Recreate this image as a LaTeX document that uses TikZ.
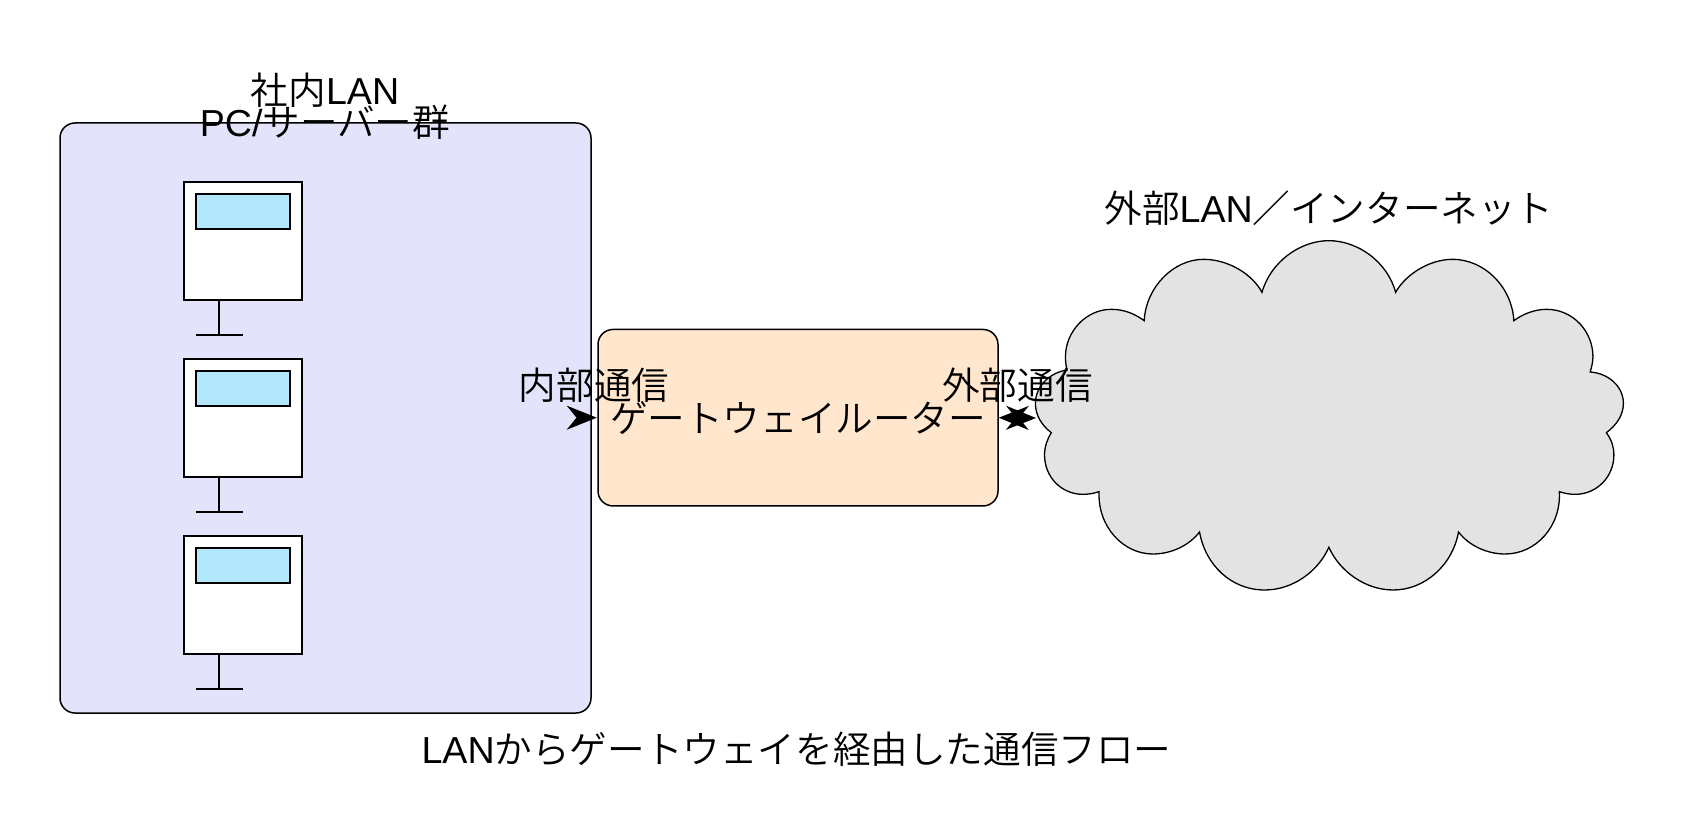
\documentclass[tikz,border=0pt]{standalone}
\usepackage{fontspec}
\usetikzlibrary{arrows.meta}
\setmainfont{Noto Sans CJK JP DemiLight}
\newfontfamily\latn{Liberation Sans}
\definecolor{lanfill}{HTML}{E3E3FC}
\definecolor{routerfill}{HTML}{FFE6CC}
\definecolor{screenfill}{HTML}{B3E7FB}
\definecolor{cloudfill}{HTML}{E3E3E3}
\tikzset{
  ln/.style={line width=1.5pt,draw=black},
  lanbox/.style={ln,fill=lanfill,rounded corners=15pt,minimum width=531pt,minimum height=590pt,inner sep=0pt},
  routerbox/.style={ln,fill=routerfill,rounded corners=15pt,minimum width=400pt,minimum height=176.5pt,inner sep=0pt,font=\bigfont},
  pcbox/.style={ln,fill=white,minimum width=118pt,minimum height=118pt,inner sep=0pt},
  screenbox/.style={ln,fill=screenfill,minimum width=94pt,minimum height=35pt,inner sep=0pt},
  label/.style={inner sep=0pt,font=\bigfont},
  flow/.style={line width=1.5pt,-{Stealth[length=30pt,width=24pt]}},
  bothflow/.style={line width=1.5pt,{Stealth[length=30pt,width=24pt]}-{Stealth[length=30pt,width=24pt]}},
  cloudpath/.style={line width=1.3pt,draw=black,fill=cloudfill}
}
\newcommand{\bigfont}{\fontsize{37.6}{37.6}\selectfont}
\begin{document}
\begin{tikzpicture}[x=1pt,y=-1pt]
\useasboundingbox (0,0) rectangle (1687,840);
\node[lanbox] (lan) at (325.5,418) {};
% cloud
\begin{scope}[shift={(1019.6,220)},x=0.3954pt,y=-0.33333pt]
\draw[cloudpath] (315,302)
 .. controls (320,200) and (390,118) .. (465,118)
 .. controls (530,118) and (590,165) .. (613,217)
 .. controls (635,125) and (710,62) .. (782,62)
 .. controls (855,62) and (930,125) .. (951,217)
 .. controls (975,165) and (1035,118) .. (1095,118)
 .. controls (1175,118) and (1245,200) .. (1250,302)
 .. controls (1275,280) and (1305,268) .. (1333,268)
 .. controls (1400,268) and (1450,335) .. (1450,410)
 .. controls (1450,425) and (1447,440) .. (1443,456)
 .. controls (1490,460) and (1527,500) .. (1527,550)
 .. controls (1527,585) and (1510,615) .. (1484,638)
 .. controls (1497,660) and (1503,680) .. (1503,705)
 .. controls (1503,770) and (1460,823) .. (1405,823)
 .. controls (1390,823) and (1378,820) .. (1365,815)
 .. controls (1370,920) and (1305,1002) .. (1228,1002)
 .. controls (1180,1002) and (1135,975) .. (1110,936)
 .. controls (1095,1035) and (1025,1110) .. (945,1110)
 .. controls (875,1110) and (810,1055) .. (782,982)
 .. controls (755,1055) and (690,1110) .. (620,1110)
 .. controls (535,1110) and (470,1035) .. (455,936)
 .. controls (430,975) and (385,1002) .. (337,1002)
 .. controls (262,1002) and (197,920) .. (201,815)
 .. controls (188,820) and (175,823) .. (160,823)
 .. controls (105,823) and (63,770) .. (63,705)
 .. controls (63,680) and (70,658) .. (80,638)
 .. controls (55,615) and (40,585) .. (40,550)
 .. controls (40,500) and (75,458) .. (120,450)
 .. controls (117,437) and (116,423) .. (116,410)
 .. controls (116,335) and (168,268) .. (232,268)
 .. controls (262,268) and (290,280) .. (315,302) -- cycle;
\end{scope}
\coordinate (cloudedge) at (1036,418);
\node[routerbox] (router) at (798,417.7) {ゲートウェイルーター};
% PCs
\foreach \i/\dy in {1/0,2/177,3/354}{
  \node[pcbox] (pc\i) at (243,241+\dy) {};
  \node[screenbox] (scr\i) at (243,211.5+\dy) {};
  \coordinate (base\i) at (219,335+\dy);
  \draw[ln] (base\i |- pc\i.south) -- (base\i);
  \draw[ln] ([xshift=-23.5pt]base\i) -- ([xshift=23.5pt]base\i);
}
\draw[flow,shorten >=0.5pt] (lan.east |- router.west) -- (router.west);
\draw[bothflow] (router.east) -- (cloudedge);
\node[label] (t1) at (325,90) {社内{\latn LAN}};
\node[label] (t2) at (325,122) {{\latn PC/}サーバー群};
\node[label] (t3) at (594,385) {内部通信};
\node[label] (t4) at (1017.5,385) {外部通信};
\node[label] (t5) at (1329,208) {外部{\latn LAN}／インターネット};
\node[label] (t6) at (796.5,749) {{\latn LAN}からゲートウェイを経由した通信フロー};
\end{tikzpicture}
\end{document}
